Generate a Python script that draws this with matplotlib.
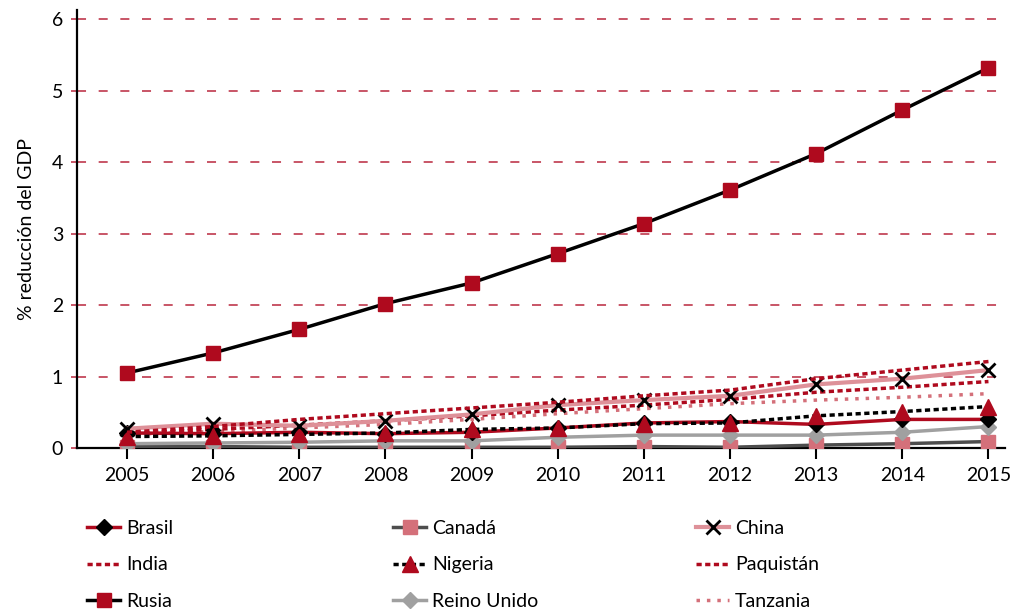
import numpy as np
import matplotlib.pyplot as plt
from matplotlib import font_manager

# chart data: % reduction of GDP by year and country
years = [2005, 2006, 2007, 2008, 2009, 2010, 2011, 2012, 2013, 2014, 2015]

brasil = [0.21, 0.20, 0.22, 0.20, 0.22, 0.28, 0.35, 0.37, 0.33, 0.40, 0.40]
canada = [0.02, 0.02, 0.01, 0.01, 0.01, 0.01, 0.02, 0.01, 0.04, 0.06, 0.09]
china = [0.27, 0.34, 0.31, 0.38, 0.47, 0.60, 0.67, 0.73, 0.89, 0.97, 1.09]
india = [0.22, 0.30, 0.40, 0.48, 0.56, 0.64, 0.73, 0.81, 0.97, 1.09, 1.21]
nigeria = [0.16, 0.17, 0.19, 0.21, 0.26, 0.28, 0.34, 0.35, 0.45, 0.51, 0.58]
paquistan = [0.20, 0.26, 0.32, 0.38, 0.45, 0.53, 0.60, 0.68, 0.78, 0.85, 0.93]
rusia = [1.05, 1.33, 1.66, 2.02, 2.31, 2.72, 3.14, 3.61, 4.12, 4.73, 5.32]
reino_unido = [0.06, 0.07, 0.08, 0.10, 0.10, 0.15, 0.18, 0.18, 0.18, 0.22, 0.30]
tanzania = [0.19, 0.23, 0.28, 0.33, 0.40, 0.48, 0.55, 0.62, 0.67, 0.71, 0.76]

yticks = [0, 1, 2, 3, 4, 5, 6]

# pick a narrow font if there is one
names = set(f.name for f in font_manager.fontManager.ttflist)
if 'Liberation Sans Narrow' in names:
    plt.rcParams['font.family'] = ['Liberation Sans Narrow', 'DejaVu Sans']
else:
    plt.rcParams['font.family'] = ['Lato', 'DejaVu Sans']

RED = '#AF0A1E'
PINK = '#D4707A'
LPINK = '#DE9199'
GREY = '#A0A0A0'
DGREY = '#4D4D4D'

fig = plt.figure(figsize=(10.16, 6.09), dpi=100)
ax = fig.add_axes([0.0758, 0.2644, 0.9132, 0.7192])

ax.set_xlim(2004.42, 2015.19)
ax.set_ylim(0, 6.13)

lines = {}
lines['Canadá'] = ax.plot(years, canada, color=DGREY, lw=2.5, marker='s', ms=9.5,
                          mfc=PINK, mec=PINK, zorder=3)[0]
lines['Reino Unido'] = ax.plot(years, reino_unido, color=GREY, lw=2.5, marker='D', ms=8.5,
                               mfc=GREY, mec=GREY, zorder=3)[0]
lines['Brasil'] = ax.plot(years, brasil, color=RED, lw=2.5, marker='D', ms=8.5,
                          mfc='black', mec='black', zorder=4)[0]
lines['Nigeria'] = ax.plot(years, nigeria, color='black', lw=2.5, ls=(0, (1.5, 1)),
                           marker='^', ms=12, mfc=RED, mec=RED, zorder=4)[0]
lines['Tanzania'] = ax.plot(years, tanzania, color=PINK, lw=2.5, ls=(0, (1, 2)), zorder=3)[0]
lines['Paquistán'] = ax.plot(years, paquistan, color=RED, lw=2.5, ls=(0, (1.5, 1)), zorder=3)[0]
lines['China'] = ax.plot(years, china, color=LPINK, lw=3, marker='x', ms=10.5, mew=2,
                         mec='black', zorder=4)[0]
lines['India'] = ax.plot(years, india, color=RED, lw=2.5, ls=(0, (1.5, 1)), zorder=4)[0]
lines['Rusia'] = ax.plot(years, rusia, color='black', lw=2.5, marker='s', ms=10,
                         mfc=RED, mec=RED, zorder=5)[0]

# dashed red gridlines
for y in yticks[1:]:
    ax.axhline(y, color='#C4485A', lw=1.3, ls=(0, (5, 7)), zorder=1)

ax.set_yticks(yticks)
ax.set_xticks(years)
ax.tick_params(axis='y', length=4, width=1.3, color='#C4485A', labelsize=14, pad=6)
ax.tick_params(axis='x', length=8, width=1.5, color='black', labelsize=14, pad=6)
for s in ['top', 'right']:
    ax.spines[s].set_visible(False)
for s in ['left', 'bottom']:
    ax.spines[s].set_linewidth(1.6)
ax.set_ylabel('% reducción del GDP', fontsize=14, labelpad=12)

# legend in three columns, placed one column at a time
cols = [['Brasil', 'India', 'Rusia'],
        ['Canadá', 'Nigeria', 'Reino Unido'],
        ['China', 'Paquistán', 'Tanzania']]
xs = [87, 393, 696]
for names_col, x in zip(cols, xs):
    leg = fig.legend([lines[n] for n in names_col], names_col, loc='upper left',
                     bbox_to_anchor=(x / 1016, 1 - 520 / 609), frameon=False,
                     fontsize=14, numpoints=1, handlelength=1.7, handletextpad=0.3,
                     labelspacing=1.0, borderpad=0, borderaxespad=0)

fig.savefig('out.png', dpi=100)
